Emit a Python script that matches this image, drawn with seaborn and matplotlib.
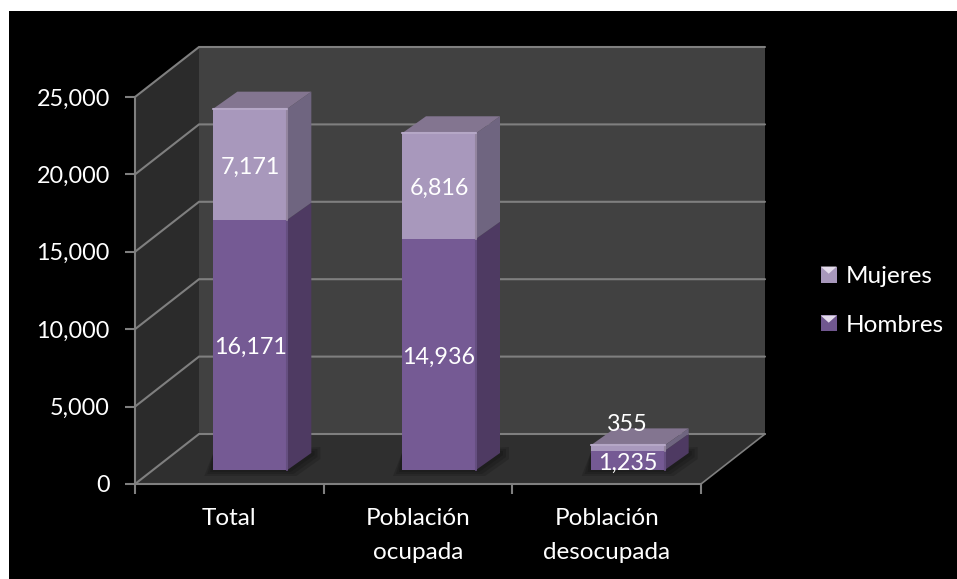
import matplotlib
matplotlib.use('Agg')
import matplotlib.pyplot as plt
from matplotlib.legend_handler import HandlerBase
from matplotlib.patches import Patch, Polygon, Rectangle
import numpy as np
import seaborn as sns

categories = ['Total', 'Población\nocupada', 'Población\ndesocupada']
hombres = [16171, 14936, 1235]
mujeres = [7171, 6816, 355]
y_ticks = [0, 5000, 10000, 15000, 20000, 25000]

W, H = 957, 579
GREY = '#7f7f7f'
WALL = '#414141'
SIDE_WALL = '#2b2b2b'
FLOOR = '#2f2f2f'
NUM_SIZE = 16.8
TEXT_SIZE = 17.5

sns.set_theme(style='white')
plt.rcParams['font.family'] = ['Lato', 'DejaVu Sans']


def px_axes(fig, left, top, right, bottom):
    ax = fig.add_axes([left / W, 1 - bottom / H, (right - left) / W, (bottom - top) / H])
    ax.set_xlim(-0.5, 2.5)
    ax.set_ylim(0, 25000)
    ax.patch.set_alpha(0)
    return ax


class BevelHandler(HandlerBase):
    # little square legend key with a light bevel on top
    def create_artists(self, legend, orig, x, y, w, h, fontsize, trans):
        s = 11.5
        x0 = x + (w - s) / 2
        y0 = y + (h - s) / 2
        base = Rectangle((x0, y0), s, s, fc=orig.get_facecolor(), ec='none', transform=trans)
        tri = Polygon([(x0, y0 + s), (x0 + s, y0 + s), (x0 + s / 2, y0 + s * 0.55)],
                      fc='#e4dcec', ec='none', transform=trans)
        return [base, tri]


fig = plt.figure(figsize=(W / 100, H / 100), dpi=100, facecolor='white')
fig.add_artist(Rectangle((9 / W, 0), 1, 1 - 11 / H, transform=fig.transFigure, fc='black', ec='none', zorder=-1))

# front plane of the chart box
ax = px_axes(fig, 135, 97, 701, 484)
unit_x = 3 / 566
unit_y = 25000 / 387
wall_dx, wall_dy = 64 * unit_x, 50 * unit_y
x0, x1 = ax.get_xlim()

ax.add_patch(Polygon([(x0 + wall_dx, wall_dy), (x1 + wall_dx, wall_dy), (x1 + wall_dx, 25000 + wall_dy),
                      (x0 + wall_dx, 25000 + wall_dy)], fc=WALL, ec='none', clip_on=False, zorder=1))
ax.add_patch(Polygon([(x0, 0), (x0 + wall_dx, wall_dy), (x0 + wall_dx, 25000 + wall_dy), (x0, 25000)],
                     fc=SIDE_WALL, ec='none', clip_on=False, zorder=1))
ax.add_patch(Polygon([(x0, 0), (x1, 0), (x1 + wall_dx, wall_dy), (x0 + wall_dx, wall_dy)],
                     fc=FLOOR, ec='none', clip_on=False, zorder=1))

for v in y_ticks:
    ax.plot([x0, x0 + wall_dx, x1 + wall_dx], [v, v + wall_dy, v + wall_dy], color=GREY, lw=1.5,
            clip_on=False, zorder=2, solid_joinstyle='miter')
ax.plot([x1, x1 + wall_dx], [0, wall_dy], color=GREY, lw=1.2, clip_on=False, zorder=2)

for side in ['top', 'right']:
    ax.spines[side].set_visible(False)
for side in ['left', 'bottom']:
    ax.spines[side].set_color(GREY)
    ax.spines[side].set_linewidth(1.5)

ax.set_yticks(y_ticks)
ax.set_yticklabels([f'{v:,}' for v in y_ticks], color='white', fontsize=NUM_SIZE)
ax.tick_params(axis='y', length=7, width=1.5, color=GREY, pad=11, left=True)
ax.set_xticks([-0.5, 0.5, 1.5, 2.5])
ax.set_xticklabels([])
ax.tick_params(axis='x', which='major', length=7, width=1.5, color=GREY, bottom=True)
ax.set_xticks([0, 1, 2], minor=True)
ax.set_xticklabels(categories, minor=True, color='white', fontsize=TEXT_SIZE, linespacing=1.76)
ax.tick_params(axis='x', which='minor', length=0, pad=17)

# bars sit a little inside the box, so they get their own shifted axes
bx = px_axes(fig, 135 + 21, 97 - 14, 701 + 21, 484 - 14)
bx.axis('off')
bar_w = 74 * unit_x
sns.barplot(x=[0, 1, 2], y=hombres, native_scale=True, color='#755a94', saturation=1, width=bar_w,
            linewidth=0, edgecolor='none', ax=bx, zorder=4)
sns.barplot(x=[0, 1, 2], y=mujeres, native_scale=True, bottom=hombres, color='#a898bc', saturation=1,
            width=bar_w, linewidth=0, edgecolor='none', ax=bx, zorder=4)
bx.set_xlim(-0.5, 2.5)
bx.set_ylim(0, 25000)

dx, dy = 24 * unit_x, 17 * unit_y
for i in range(len(categories)):
    left, right = i - bar_w / 2, i + bar_w / 2
    low, mid = hombres[i], hombres[i] + mujeres[i]
    # soft shadow on the floor, a few see-through layers
    for grow in [1.0, 2.0, 3.0]:
        gx, gy = grow * 3 * unit_x, grow * 2 * unit_y
        bx.add_patch(Polygon([(left - gx, -gy), (right + gx, -gy), (right + dx + gx, dy - gy), (right + dx + gx, dy + gy),
                              (left, dy)], fc='black', alpha=0.14, ec='none', clip_on=False, zorder=3))
    bx.add_patch(Polygon([(right, 0), (right + dx, dy), (right + dx, low + dy), (right, low)],
                         fc='#4e3a62', ec='none', clip_on=False, zorder=4))
    bx.add_patch(Polygon([(right, low), (right + dx, low + dy), (right + dx, mid + dy), (right, mid)],
                         fc='#6f6580', ec='none', clip_on=False, zorder=4))
    bx.add_patch(Polygon([(left, mid), (right, mid), (right + dx, mid + dy), (left + dx, mid + dy)],
                         fc='#837590', ec='none', clip_on=False, zorder=4))
    # bevels on the front corner
    bx.plot([right, right], [0, low], color='#654f80', lw=1.5, clip_on=False, zorder=5)
    bx.plot([right, right], [low, mid], color='#93859f', lw=1.5, clip_on=False, zorder=5)
    bx.plot([left, right], [mid, mid], color='#b5a7c6', lw=1.5, clip_on=False, zorder=5)
    bx.annotate(f'{hombres[i]:,}', (i, low / 2), xytext=(0, -2), textcoords='offset points', color='white',
                fontsize=NUM_SIZE, ha='center', va='center', annotation_clip=False, zorder=6)
    label_off = 17 if mujeres[i] < 1000 else -2
    bx.annotate(f'{mujeres[i]:,}', (i, low + mujeres[i] / 2), xytext=(0, label_off),
                textcoords='offset points', color='white', fontsize=NUM_SIZE, ha='center', va='center',
                annotation_clip=False, zorder=6)

handles = [Patch(facecolor='#a898bc', label='Mujeres'), Patch(facecolor='#70578f', label='Hombres')]
fig.legend(handles=handles, handler_map={Patch: BevelHandler()}, loc='center left',
           bbox_to_anchor=(819 / W, 1 - 301 / H), frameon=False, labelcolor='white', fontsize=TEXT_SIZE,
           handlelength=0.8, handletextpad=0.3, labelspacing=1.15, borderpad=0, borderaxespad=0)

fig.savefig('out.png', dpi=100, facecolor=fig.get_facecolor())
